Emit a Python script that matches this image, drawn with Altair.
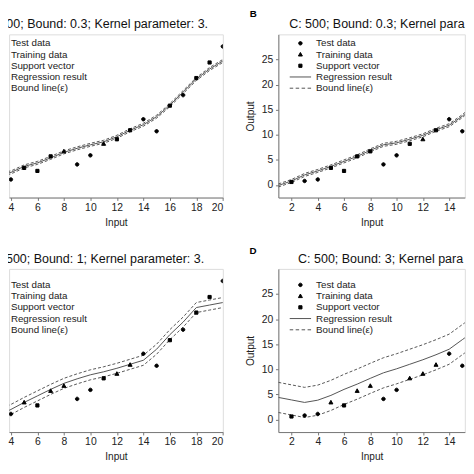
import altair as alt
import pandas as pd

S = 458 / 474          # reference pixels -> page pixels
FONT = "Liberation Sans"

# ---------------- data ----------------
point_x = list(range(2, 21))
point_y = [0.6, 0.8, 1.1, 3.4, 2.8, 5.7, 6.7, 4.1, 5.9, 8.2, 9.1, 10.9,
           13.1, 10.7, 15.8, 17.9, 21.3, 24.4, 27.6]

kind_names = ["Test data", "Training data", "Support vector",
              "Regression result", "Bound line(ε)"]
kind_code = {"T": "Test data", "R": "Training data", "S": "Support vector"}

# panel A (left, top)
a_title = "C: 500; Bound: 0.3; Kernel parameter: 3."
a_eps = 0.3
a_point_x = list(range(4, 21))
a_kinds = list("TSSSRTTRSSTTSTSST")
a_reg_x = list(range(3, 21))
a_reg_y = [2.0, 2.5, 3.7, 4.4, 5.4, 6.5, 7.3, 8.0, 8.6, 9.6, 10.9, 12.0,
           13.6, 15.9, 18.5, 21.1, 23.1, 24.7]

# panel B (right, top)
b_title = "C: 500; Bound: 0.3; Kernel para"
b_eps = 0.3
b_point_x = list(range(2, 16))
b_kinds = list("STTSSSSTTSRSTT")
b_reg_x = list(range(1, 17))
b_reg_y = [-0.1, 0.8, 2.0, 2.8, 3.7, 4.7, 5.7, 6.9, 8.0, 8.4, 9.1, 9.9,
           11.0, 11.9, 13.7, 16.0]

# panel C (left, bottom)
c_title = "C: 500; Bound: 1; Kernel parameter: 3."
c_eps = 1
c_point_x = list(range(4, 21))
c_kinds = list("TRSRRTTSRRTTSTSST")
c_reg_x = list(range(3, 21))
c_reg_y = [0.8, 2.0, 3.4, 4.7, 6.0, 7.2, 8.1, 8.9, 9.5, 10.2, 11.0, 11.8,
           14.0, 16.9, 19.4, 22.3, 22.8, 23.3]

# panel D (right, bottom)
d_title = "C: 500; Bound: 3; Kernel para"
d_eps = 3
d_point_x = list(range(2, 16))
d_kinds = list("STTRSRRTTRRRTT")
d_reg_x = list(range(1, 17))
d_reg_y = [4.4, 3.9, 3.4, 3.85, 4.8, 6.0, 7.05, 8.2, 9.3, 10.1, 11.0, 11.9,
           12.9, 14.0, 15.9, 17.8]

# ---------------- styling ----------------
W_L = 222.7 * S
W_R = 194.3 * S
H = 170 * S
X_DOM_L = [20 - 222.7 / 13.8, 20]
X_DOM_R = [1, 1 + 194.3 / 13.69]
Y_DOM = [-2.5, 30]

shape_range = [
    "M-0.35,0A0.35,0.35,0,1,1,0.35,0A0.35,0.35,0,1,1,-0.35,0Z",
    "M0,-0.42L0.4,0.3L-0.4,0.3Z",
    "M-0.32,-0.32H0.32V0.32H-0.32Z",
    "M-2.15,0H2.15",
    "M-2.15,0H-1.45M-0.95,0H-0.25M0.25,0H0.95M1.45,0H2.15",
]
color_range = ["#000000", "#000000", "#000000", "#555555", "#555555"]


def make_panel(title, eps, pxs, kinds, rx, ry, left, legend_y, title_x,
               title_y, letter=None, letter_x=0, letter_y=0):
    width = W_L if left else W_R
    xdom = X_DOM_L if left else X_DOM_R
    xvals = list(range(4, 21, 2)) if left else list(range(2, 15, 2))
    xaxis = alt.Axis(values=xvals, title="Input", grid=False,
                     tickSize=3 * S, labelPadding=2 * S, titlePadding=5 * S,
                     labelFontSize=10.8 * S, titleFontSize=10.5 * S,
                     labelFont=FONT, titleFont=FONT, titleFontWeight="normal",
                     domainColor="#777777", tickColor="#777777",
                     labelColor="#222222", titleColor="#222222")
    if left:
        yaxis = None
    else:
        yaxis = alt.Axis(values=[0, 5, 10, 15, 20, 25], title="Output",
                         grid=False, tickSize=3 * S, labelPadding=2.7 * S,
                         titlePadding=6 * S, labelFontSize=10.8 * S,
                         titleFontSize=10.5 * S, labelFont=FONT,
                         titleFont=FONT, titleFontWeight="normal",
                         domainColor="#777777", tickColor="#777777",
                         labelColor="#222222", titleColor="#222222")
    xsc = alt.Scale(domain=xdom, nice=False, zero=False)
    ysc = alt.Scale(domain=Y_DOM, nice=False, zero=False)
    X = alt.X("x:Q", scale=xsc, axis=xaxis)

    leg = alt.Legend(orient="none", legendX=-11.1 if left else 16.7,
                     legendY=legend_y, title=None, padding=0,
                     symbolSize=100, symbolOpacity=0 if left else 1,
                     symbolStrokeWidth=1,
                     labelOffset=1.9 if left else 10.3,
                     rowPadding=0.3, labelFont=FONT,
                     labelFontSize=10.2 * S, labelColor="#222222")

    reg = pd.DataFrame({"x": rx, "y": ry})
    pts = pd.DataFrame({
        "x": pxs,
        "y": [point_y[point_x.index(v)] for v in pxs],
        "kind": [kind_code[k] for k in kinds],
    })

    solid = alt.Chart(reg).mark_line(color="#555555", strokeWidth=1,
                                     clip=True).encode(
        x=X, y=alt.Y("y:Q", scale=ysc, axis=yaxis))
    upper = alt.Chart(reg).transform_calculate(
        yb=f"datum.y + {eps}").mark_line(
        color="#444444", strokeWidth=0.9, strokeDash=[3, 2], clip=True).encode(
        x=X, y=alt.Y("yb:Q", scale=ysc, axis=yaxis))
    lower = alt.Chart(reg).transform_calculate(
        yb=f"datum.y - {eps}").mark_line(
        color="#444444", strokeWidth=0.9, strokeDash=[3, 2], clip=True).encode(
        x=X, y=alt.Y("yb:Q", scale=ysc, axis=yaxis))
    shape_scale = alt.Scale(domain=kind_names, range=shape_range)
    color_scale = alt.Scale(domain=kind_names, range=color_range)
    points = alt.Chart(pts).mark_point(
        filled=True, size=100, strokeWidth=1, opacity=1, clip=True).encode(
        x=X, y=alt.Y("y:Q", scale=ysc, axis=yaxis),
        shape=alt.Shape("kind:N", scale=shape_scale, legend=leg),
        color=alt.Color("kind:N", scale=color_scale, legend=leg),
        stroke=alt.Stroke("kind:N", scale=color_scale, legend=leg),
    )
    ttl = alt.Chart(pd.DataFrame({"t": [title]})).mark_text(
        align="right" if left else "left", baseline="alphabetic", font=FONT,
        fontSize=13 * S, color="#111111").encode(
        text="t:N", x=alt.value(title_x), y=alt.value(title_y))
    layers = [solid, upper, lower, points, ttl]
    if letter:
        lab = alt.Chart(pd.DataFrame({"t": [letter]})).mark_text(
            align="left", baseline="alphabetic", font=FONT,
            fontSize=10.2 * S, fontWeight="bold", color="#000000").encode(
            text="t:N", x=alt.value(letter_x), y=alt.value(letter_y))
        layers.append(lab)
    return alt.layer(*layers).properties(width=width, height=H)


A = make_panel(a_title, a_eps, a_point_x, a_kinds, a_reg_x, a_reg_y, True,
               legend_y=3.5, title_x=207.3 * S, title_y=-7.0 * S)
B = make_panel(b_title, b_eps, b_point_x, b_kinds, b_reg_x, b_reg_y, False,
               legend_y=3.5, title_x=11.3 * S, title_y=-7.0 * S,
               letter="B", letter_x=-29.7 * S, letter_y=-17.7 * S)
C = make_panel(c_title, c_eps, c_point_x, c_kinds, c_reg_x, c_reg_y, True,
               legend_y=10.6, title_x=203.3 * S, title_y=-5.9 * S)
D = make_panel(d_title, d_eps, d_point_x, d_kinds, d_reg_x, d_reg_y, False,
               legend_y=10.6, title_x=20.6 * S, title_y=-5.9 * S,
               letter="D", letter_x=-30.0 * S, letter_y=-16.0 * S)

chart = alt.concat(
    A, B, C, D, columns=2,
    spacing={"row": 73.6 * S, "column": 57 * S},
    bounds="flush",
    padding={"left": -25.9, "top": -1.0, "right": 0, "bottom": 0},
).resolve_scale(
    color="independent", shape="independent", stroke="independent",
).resolve_legend(
    color="independent", shape="independent", stroke="independent",
).configure_view(stroke=None).configure(font=FONT)

chart.save("out.html", embed_options={"renderer": "svg", "actions": False})
